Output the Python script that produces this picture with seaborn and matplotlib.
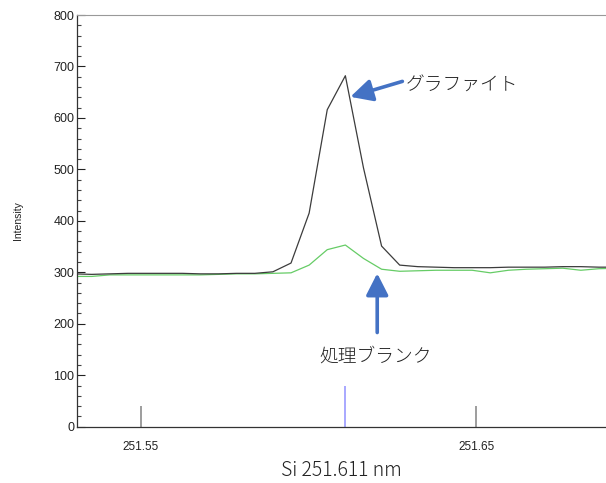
import matplotlib
matplotlib.use("Agg")
import matplotlib.pyplot as plt
from matplotlib.ticker import MultipleLocator
import seaborn as sns
import pandas as pd

sns.set_style("white")
plt.rcParams['font.family'] = ['Liberation Sans', 'Noto Sans CJK JP', 'DejaVu Sans']

# Spectrum data (Si 251.611 nm)
wavelength = [251.5300, 251.5354, 251.5408, 251.5462, 251.5516, 251.5570, 251.5624,
              251.5678, 251.5732, 251.5786, 251.5840, 251.5894, 251.5948, 251.6002,
              251.6056, 251.6110, 251.6164, 251.6218, 251.6272, 251.6326, 251.6380,
              251.6434, 251.6488, 251.6542, 251.6596, 251.6650, 251.6704, 251.6758,
              251.6812, 251.6866, 251.6920]
graphite = [297, 296, 297, 298, 298, 298, 298, 297, 297, 298, 298, 301, 318, 415, 616,
            682, 503, 351, 314, 311, 310, 309, 309, 309, 310, 310, 310, 311, 311, 310, 310]
blank = [292, 292, 295, 295, 295, 295, 295, 295, 296, 297, 297, 298, 299, 314, 344,
         353, 327, 306, 302, 303, 304, 304, 304, 299, 304, 306, 307, 308, 304, 307, 308]

# reference line markers
line_pos = [251.55, 251.611, 251.65]
line_height = [40, 80, 40]
line_color = ["#8c8c8c", "#9a9aff", "#8c8c8c"]

df = pd.DataFrame({"wavelength": wavelength, "graphite": graphite, "blank": blank})

fig = plt.figure(figsize=(6.06, 4.83), dpi=100)
ax = fig.add_axes([77 / 606, 56.3 / 483, 529 / 606, 411.7 / 483])

sns.lineplot(data=df, x="wavelength", y="blank", color="#66cc66", linewidth=0.9, ax=ax)
sns.lineplot(data=df, x="wavelength", y="graphite", color="#3c3c3c", linewidth=0.9, ax=ax)
ax.vlines(line_pos, 0, line_height, colors=line_color, linewidth=1.2)

ax.set_xlim(251.531, 251.6887)
ax.set_ylim(0, 800)
ax.set_xticks([251.55, 251.65])
ax.set_xticklabels(["251.55", "251.65"])
ax.yaxis.set_major_locator(MultipleLocator(100))
ax.yaxis.set_minor_locator(MultipleLocator(20))
ax.tick_params(axis="x", length=0, pad=10, labelsize=8.5, colors="#222222")
ax.tick_params(axis="y", which="major", direction="in", length=6, width=0.8,
               labelsize=9, pad=2, colors="#222222", left=True)
ax.tick_params(axis="y", which="minor", direction="in", length=3, width=0.8,
               colors="#444444", left=True)

for side in ["left", "bottom"]:
    ax.spines[side].set_color("#333333")
    ax.spines[side].set_linewidth(0.9)
ax.spines["top"].set_color("#999999")
ax.spines["right"].set_visible(False)

ax.set_ylabel("Intensity", fontsize=7.5, labelpad=22, color="#222222")
ax.set_xlabel("Si 251.611 nm", fontsize=14, labelpad=5, color="#222222",
              family=["Noto Sans CJK JP", "DejaVu Sans"], fontweight="light")

arrow = dict(arrowstyle="-|>,head_length=0.55,head_width=0.28", color="#4472c4",
             lw=2.6, mutation_scale=24, shrinkA=0, shrinkB=0)
ax.annotate("", xy=(251.6125, 641), xytext=(251.628, 671), arrowprops=arrow)
ax.text(251.6290, 662, "グラファイト", fontsize=13.5, va="center", ha="left",
        family=["Noto Sans CJK JP"], fontweight="light", color="#222222")
ax.annotate("", xy=(251.6205, 298), xytext=(251.6205, 183), arrowprops=arrow)
ax.text(251.620, 136, "処理ブランク", fontsize=13.5, va="center", ha="center",
        family=["Noto Sans CJK JP"], fontweight="light", color="#222222")

fig.savefig("out.png", dpi=100)
